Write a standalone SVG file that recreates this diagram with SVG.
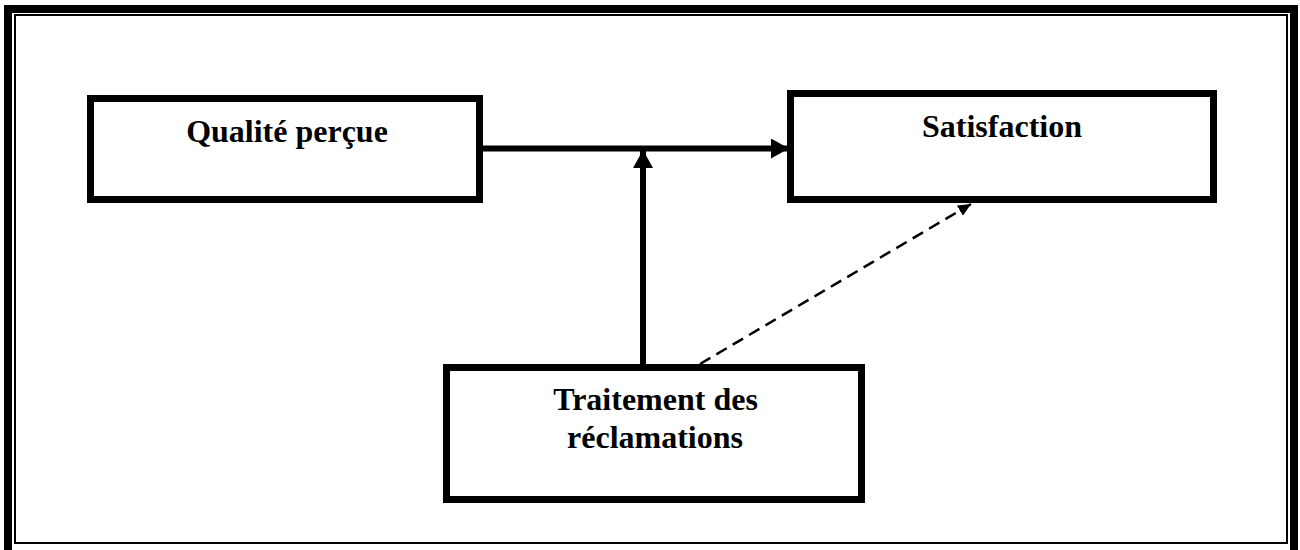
<svg xmlns="http://www.w3.org/2000/svg" width="1300" height="550" viewBox="0 0 1300 550">
<style>
.box{fill:#fff;stroke:#000;stroke-width:7}
.lbl{font-family:"Liberation Serif","Times New Roman",serif;font-weight:bold;font-size:32px;fill:#000;text-anchor:middle}
.conn{stroke:#000;fill:none}
</style>
<defs>
<marker id="ah" markerUnits="userSpaceOnUse" markerWidth="18" markerHeight="20" refX="17" refY="10" orient="auto">
<path d="M0,0 L18,10 L0,20 Z" fill="#000"/>
</marker>
<marker id="ahs" markerUnits="userSpaceOnUse" markerWidth="13" markerHeight="12" refX="13" refY="6" orient="auto">
<path d="M0,0 L13,6 L0,12 Z" fill="#000"/>
</marker>
</defs>
<rect width="1300" height="550" fill="#fff"/>
<g id="frame">
<rect x="8" y="9" width="1286" height="550" fill="none" stroke="#000" stroke-width="8"/>
<rect x="15" y="15" width="1272" height="528" fill="none" stroke="#000" stroke-width="2"/>
</g>
<g id="connectors">
<line class="conn" x1="483" y1="148.5" x2="788" y2="148.5" stroke-width="6" marker-end="url(#ah)"/>
<line class="conn" x1="643" y1="364" x2="643" y2="151" stroke-width="6" marker-end="url(#ah)"/>
<line class="conn" x1="700" y1="364" x2="971" y2="204" stroke-width="2.5" stroke-dasharray="12,7" marker-end="url(#ahs)"/>
</g>
<g id="node-qualite">
<rect class="box" x="90.5" y="98.5" width="389" height="101"/>
<text class="lbl" x="287" y="142">Qualité perçue</text>
</g>
<g id="node-satisfaction">
<rect class="box" x="790.5" y="93.5" width="423" height="106"/>
<text class="lbl" x="1002" y="137">Satisfaction</text>
</g>
<g id="node-traitement">
<rect class="box" x="446.5" y="367.5" width="415" height="132"/>
<text class="lbl" x="655.5" y="410">Traitement des</text>
<text class="lbl" x="655" y="448">réclamations</text>
</g>
</svg>
